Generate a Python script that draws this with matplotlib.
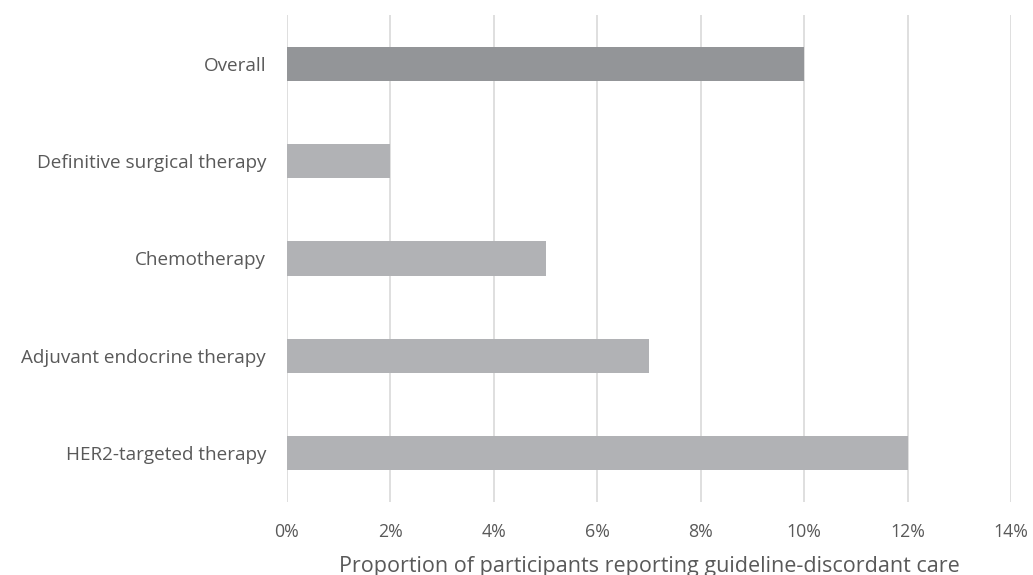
import matplotlib
matplotlib.use("Agg")
import matplotlib.pyplot as plt
from matplotlib.ticker import FuncFormatter

categories = ["Overall", "Definitive surgical therapy", "Chemotherapy",
              "Adjuvant endocrine therapy", "HER2-targeted therapy"]
values = [10, 2, 5, 7, 12]
bar_colors = ["#939598", "#b1b2b5", "#b1b2b5", "#b1b2b5", "#b1b2b5"]
x_ticks = [0, 2, 4, 6, 8, 10, 12, 14]

plt.rcParams['font.family'] = ['Open Sans', 'DejaVu Sans']
text_color = "#595959"

fig = plt.figure(figsize=(10.33, 5.75), dpi=100)
ax = fig.add_axes([0.2778, 0.127, 0.7009, 0.847])

y = list(range(len(categories)))
ax.barh(y, values, height=0.35, color=bar_colors, zorder=3)
ax.set_ylim(len(categories) - 0.5, -0.5)
ax.set_yticks(y)
ax.set_yticklabels(categories, fontsize=13.6, color=text_color)

ax.set_xlim(0, 14)
ax.set_xticks(x_ticks)
ax.xaxis.set_major_formatter(FuncFormatter(lambda v, p: f"{int(v)}%"))
ax.tick_params(axis='x', labelsize=12.8, colors=text_color, length=0, pad=15)
ax.tick_params(axis='y', length=0, pad=15)
ax.grid(axis='x', color="#d9d9d9", linewidth=1.2, zorder=0)

for s in ax.spines.values():
    s.set_visible(False)

ax.set_xlabel("Proportion of participants reporting guideline-discordant care",
              fontsize=15.5, color=text_color, labelpad=11)

fig.savefig("out.png", dpi=100)
